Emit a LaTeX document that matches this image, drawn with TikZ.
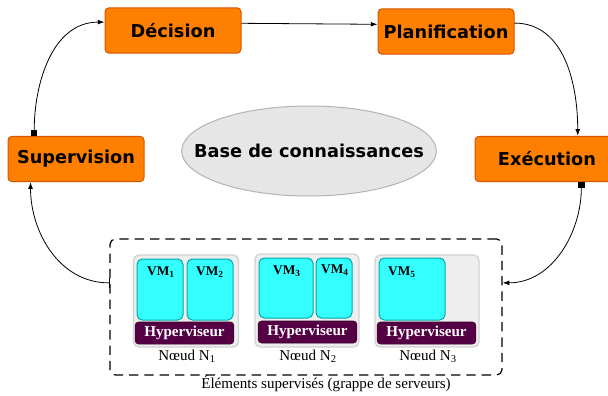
\documentclass[tikz,border=0pt]{standalone}
\usepackage{fontspec}
\setmainfont{Liberation Serif}
\newfontfamily\boxfont{DejaVu Sans}
\usetikzlibrary{arrows.meta,shapes.geometric}

\definecolor{orangefill}{RGB}{255,128,0}
\definecolor{orangeline}{RGB}{212,85,0}
\definecolor{kbfill}{RGB}{230,230,230}
\definecolor{kbline}{RGB}{179,179,179}
\definecolor{nodefill}{RGB}{238,238,238}
\definecolor{nodeline}{RGB}{210,210,210}
\definecolor{vmfill}{RGB}{51,255,255}
\definecolor{vmline}{RGB}{0,170,170}
\definecolor{hypfill}{RGB}{85,0,68}

\begin{document}
\begin{tikzpicture}[x=0.75pt,y=0.75pt,yscale=-1,xscale=1,
	etape/.style={draw=orangeline,fill=orangefill,rounded corners=3pt,line width=0.75pt,inner sep=0pt,minimum width=102pt,minimum height=34pt,font=\boxfont\bfseries\fontsize{13.3}{16}\selectfont},
	noeud/.style={draw=nodeline,fill=nodefill,rounded corners=4pt,line width=1pt,inner sep=0pt},
	vm/.style={draw=vmline,fill=vmfill,rounded corners=4pt,line width=0.75pt,inner sep=0pt},
	hyp/.style={fill=hypfill,draw=hypfill!70!black,rounded corners=2.5pt,inner sep=0pt,minimum width=74pt,minimum height=16.5pt,text=white,font=\bfseries\fontsize{11.3}{13}\selectfont},
	fleche/.style={line width=0.6pt,-{Latex[length=5pt,width=3.6pt]}},
	carre/.style={{Square[length=4.5pt,width=4.5pt]}-{Latex[length=5pt,width=3.6pt]},line width=0.6pt},
	barre/.style={{Bar[width=7pt]}-{Latex[length=5pt,width=3.6pt]},line width=0.6pt}]
	\useasboundingbox (0,0) rectangle (608,396);

	%Shape: Rounded Rect [id:decision]
	\node [etape] (dec) at (173,30.5) {Décision};
	%Shape: Rounded Rect [id:planification]
	\node [etape] (pla) at (446,31.5) {Planification};
	%Shape: Rounded Rect [id:supervision]
	\node [etape] (sup) at (76,159) {Supervision};
	%Shape: Rounded Rect [id:execution]
	\node [etape,minimum width=108pt] (exe) at (547,159) {Exécution};
	%Shape: Ellipse [id:base]
	\node [ellipse,draw=kbline,fill=kbfill,line width=0.75pt,minimum width=191pt,minimum height=67.5pt,inner sep=0pt] (kb) at (309,151) {};
	% Text Node
	\node [font=\boxfont\bfseries\fontsize{13.3}{16}\selectfont] (kbtext) at (kb.center) {Base de connaissances};

	%Shape: Rounded Rect [id:grappe]
	\node [draw,dashed,dash pattern={on 7pt off 4.5pt},rounded corners=4pt,line width=0.9pt,minimum width=294pt,minimum height=102pt,inner sep=0pt] (grappe) at (306,307) {};

	%Shape: Nodes of the cluster
	\node [noeud,minimum width=78.75pt,minimum height=69pt] (n1) at (186,301) {};
	\node [noeud,minimum width=78pt,minimum height=69.75pt] (n2) at (307,300.5) {};
	\node [noeud,minimum width=78pt,minimum height=69pt] (n3) at (427,301) {};

	%Shape: Virtual machines
	\node [vm,minimum width=34.5pt,minimum height=45.75pt] (vm1) at (160,289.5) {};
	\node [vm,minimum width=34.5pt,minimum height=45.75pt] (vm2) at (210,289.5) {};
	\node [vm,minimum width=40.5pt,minimum height=45pt] (vm3) at (286,288) {};
	\node [vm,minimum width=27pt,minimum height=45pt] (vm4) at (334,288) {};
	\node [vm,minimum width=49.5pt,minimum height=46.5pt] (vm5) at (412,289) {};

	%Shape: Hypervisors
	\node [hyp] (h1) at (184.5,333) {Hyperviseur};
	\node [hyp] (h2) at (307.5,332) {Hyperviseur};
	\node [hyp] (h3) at (426.5,333) {Hyperviseur};

	% Text Node
	\node [font=\bfseries\fontsize{10}{12}\selectfont] (l1) at (161,272) {VM\textsubscript{1}};
	\node [font=\bfseries\fontsize{10}{12}\selectfont] (l2) at (210,272) {VM\textsubscript{2}};
	\node [font=\bfseries\fontsize{10}{12}\selectfont] (l3) at (287,271) {VM\textsubscript{3}};
	\node [font=\bfseries\fontsize{10}{12}\selectfont] (l4) at (335,270) {VM\textsubscript{4}};
	\node [font=\bfseries\fontsize{10}{12}\selectfont] (l5) at (402,272) {VM\textsubscript{5}};
	% Text Node
	\node [font=\fontsize{11.3}{13}\selectfont] (t1) at (187,356) {Nœud N\textsubscript{1}};
	\node [font=\fontsize{11.3}{13}\selectfont] (t2) at (308,356) {Nœud N\textsubscript{2}};
	\node [font=\fontsize{11.3}{13}\selectfont] (t3) at (428,356) {Nœud N\textsubscript{3}};
	% Text Node
	\node [font=\fontsize{11.3}{13}\selectfont] (titre) at (326,384) {Éléments supervisés (grappe de serveurs)};

	%Connectors (yscale=-1: out/in 90 points down)
	\draw [fleche] (dec.6) -- (pla.174);
	\draw [fleche] (pla.7) to[out=0,in=-90] (exe.37);
	\draw [carre] (exe.-34) to[out=90,in=0] (grappe.7);
	\draw [barre] (grappe.173) to[out=180,in=90] (sup.207);
	\draw [carre] (sup.151) to[out=-90,in=180] (dec.173);

\end{tikzpicture}
\end{document}
